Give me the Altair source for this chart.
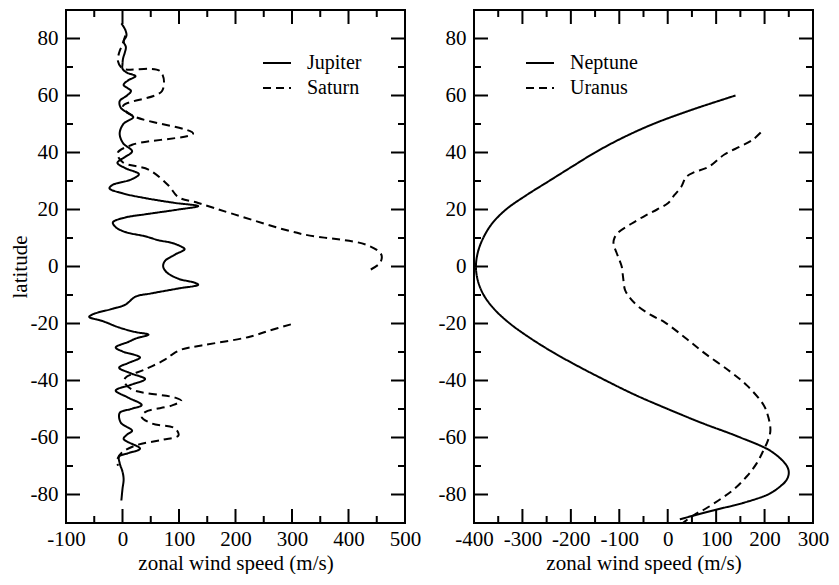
import altair as alt
import pandas as pd

# ---------------- data ----------------
jupiter_lat = [85.3, 83, 81, 79, 77, 75, 73, 71, 69.4, 68, 66.8, 65.3, 63.7, 61.6, 60, 58, 55.7, 54, 52.4,
               50.1, 46.7, 43.3, 40.4, 38.5, 36.4, 34.5, 32.4, 30.5, 28.6, 27.4, 25.7, 24, 22.3, 21.2, 20,
               18.3, 17.2, 15.5, 13.8, 12.1, 10.6, 9.2, 8.3, 7, 6.1, 4.2, 1.9, 0, -2, -4.3, -5.7, -6.4, -7.7,
               -9.4, -10.6, -13.4, -14.8, -16.8, -17.7, -19.1, -21.4, -23, -23.9, -25.3, -26.4, -28.4, -29.8,
               -31.9, -33.8, -35.5, -37.5, -39.5, -41.5, -43.5, -46, -48.6, -50, -51.4, -54.8, -57.6, -59,
               -60.5, -63.9, -65.5, -66.7, -69, -72, -74.7, -78, -82.1]
jupiter_u = [-2, 5, 7, 2, 6, 4, 1, 0, 0, 8, 23, 10, 2, 15, 8, -5, -3, 8, 19,
             2, -5, 1, 17, 5, -9, 5, 29, 15, -18, -23, 0, 40, 93, 134, 99,
             40, 5, -17, -12, 5, 40, 64, 87, 104, 110, 93, 75, 72, 78, 99, 128, 134, 99,
             52, 23, 5, -17, -53, -59, -36, -6, 23, 46, 23, 11, -12, 0,
             31, 11, -6, 15, 40, 15, -12, 10, 34, 15, -5, -3, 17, 8,
             2, 31, 10, -6, -5, 0, 2, 0, -2]

saturn_n_lat = [81, 78, 75, 72, 69.5, 68.5, 61.6, 56.3, 53, 46.7, 42.7, 39.7, 36.5, 34, 28.5, 24.3,
                22.3, 18.3, 11.5, 7.6, 4.2, 1.3, -1.2]
saturn_n_u = [5, 0, -6, -8, 0, 67, 70, 1, 17, 125, 17, -9, 1, 46, 81, 99,
              134, 198, 315, 432, 458, 456, 438]
saturn_s_lat = [-20.3, -22.5, -24.8, -27.7, -29.1, -31, -32.7, -36.1, -39.1, -40.8, -43.2, -46, -47.1,
                -48.8, -51.1, -52.8, -55.1, -56.8, -59.3, -60.8, -62.8, -65.3, -67.6, -69.9]
saturn_s_u = [298, 260, 222, 140, 105, 87, 75, 40, 5, 4, 17, 93, 104,
              87, 40, 34, 52, 93, 99, 70, 23, -1, -9, -8]

neptune_lat = [60, 55, 50, 45, 40, 35, 30, 25, 20, 15, 10, 5, 0, -5, -10, -15, -20, -25, -30, -35,
               -40, -45, -50, -55, -60, -65, -70, -72.5, -75, -78, -80, -83, -85, -87, -88.7]
neptune_u = [140, 50, -30, -95, -150, -198, -245, -292, -334, -363, -381, -392, -396, -392, -380, -358,
             -326, -285, -238, -185, -128, -68, 0, 72, 150, 215, 246, 250, 245, 226, 207, 155, 108, 62, 25]

uranus_lat = [47, 44.4, 42.2, 39.3, 34.8, 33.1, 31.4, 28, 25.1, 22.3, 20, 17.8, 15, 12.1, 10, 8.1, 5,
              2, 0, -4, -8.3, -11, -14, -17, -19.6, -25, -30.4, -37, -41.8, -48.6, -53, -57.6, -61,
              -64.4, -69, -73.5, -78, -81.5, -85, -87.1, -90]
uranus_u = [192, 175, 151, 117, 83, 55, 38, 28, 14, 1, -22, -47, -75, -101, -110, -112, -106,
            -99, -95, -92, -88, -78, -61, -35, -6, 36, 76, 130, 164, 198, 208, 212, 207,
            198, 184, 164, 138, 110, 78, 55, 31]

left_x_labels = [-100, 0, 100, 200, 300, 400, 500]
left_x_minor = [-50, 50, 150, 250, 350, 450]
right_x_labels = [-400, -300, -200, -100, 0, 100, 200, 300]
right_x_minor = [-350, -250, -150, -50, 50, 150, 250]
y_labels = [-80, -60, -40, -20, 0, 20, 40, 60, 80]
y_minor = [-70, -50, -30, -10, 10, 30, 50, 70]

# ---------------- layout / style ----------------
W, H = 339, 513
MAJ, MIN = 14, 7
FONT = "Liberation Serif"
FS = 21
DASH = [8, 5]
LABEL = "'' + datum.value"


def series(name, seg, lats, us):
    return pd.DataFrame({"planet": name, "seg": seg, "i": range(len(lats)), "lat": lats, "u": us})


def panel(df, domain_names, xdom, xlabels, xminor, ytitle, legend_x):
    xs = alt.Scale(domain=xdom, nice=False, zero=False)
    ys = alt.Scale(domain=[-90, 90], nice=False, zero=False)
    common = dict(labelFont=FONT, labelFontSize=FS, labelColor="black", titleFont=FONT,
                  titleFontSize=FS, titleFontWeight="normal", titleColor="black",
                  domain=False, ticks=False, grid=False, labelExpr=LABEL, labelFlush=False)
    yaxis = dict(values=y_labels, labelPadding=8, **common)
    if ytitle:
        yaxis.update(title=ytitle, titlePadding=0)
    else:
        yaxis.update(title=None)
    lines = alt.Chart(df).mark_line(color="black", strokeWidth=2, clip=True,
                                    interpolate="catmull-rom").encode(
        x=alt.X("u:Q", scale=xs,
                axis=alt.Axis(values=xlabels, title="zonal wind speed (m/s)", labelPadding=5,
                              titlePadding=3, **common)),
        y=alt.Y("lat:Q", scale=ys, axis=alt.Axis(**yaxis)),
        strokeDash=alt.StrokeDash(
            "planet:N",
            scale=alt.Scale(domain=domain_names, range=[[1, 0], DASH]),
            legend=alt.Legend(title=None, orient="none", legendX=legend_x, legendY=38,
                              symbolType="stroke", symbolSize=784, symbolStrokeWidth=2,
                              symbolStrokeColor="black", labelFont=FONT, labelFontSize=20,
                              labelColor="black", labelOffset=15, rowPadding=0),
        ),
        detail="seg:N",
        order="i:Q",
    )

    def xt(vals, y0, y1):
        return alt.Chart(pd.DataFrame({"u": vals})).mark_rule(color="black", strokeWidth=2).encode(
            x=alt.X("u:Q", scale=xs), y=alt.value(y0), y2=alt.value(y1))

    def yt(vals, x0, x1):
        return alt.Chart(pd.DataFrame({"lat": vals})).mark_rule(color="black", strokeWidth=2).encode(
            y=alt.Y("lat:Q", scale=ys), x=alt.value(x0), x2=alt.value(x1))

    ticks = [
        xt(xlabels, H, H - MAJ), xt(xminor, H, H - MIN),
        xt(xlabels, 0, MAJ), xt(xminor, 0, MIN),
        yt(y_labels, 0, MAJ), yt(y_minor, 0, MIN),
        yt(y_labels, W, W - MAJ), yt(y_minor, W, W - MIN),
    ]
    return alt.layer(lines, *ticks).properties(width=W, height=H)


left_df = pd.concat([
    series("Jupiter", "j", jupiter_lat, jupiter_u),
    series("Saturn", "sn", saturn_n_lat, saturn_n_u),
    series("Saturn", "ss", saturn_s_lat, saturn_s_u),
])
right_df = pd.concat([
    series("Neptune", "n", neptune_lat, neptune_u),
    series("Uranus", "u", uranus_lat, uranus_u),
])

left = panel(left_df, ["Jupiter", "Saturn"], [-100, 500], left_x_labels, left_x_minor, "latitude", 196)
right = panel(right_df, ["Neptune", "Uranus"], [-400, 300], right_x_labels, right_x_minor, None, 51)

chart = alt.hconcat(left, right, spacing=69, bounds="flush").resolve_scale(
    strokeDash="independent", x="independent"
).resolve_legend(strokeDash="independent").properties(
    padding={"left": 0, "top": 0, "right": 0, "bottom": 0},
    background="white",
).configure_view(stroke="black", strokeWidth=2)

chart.save("out.html", embed_options={"renderer": "svg", "actions": False})
